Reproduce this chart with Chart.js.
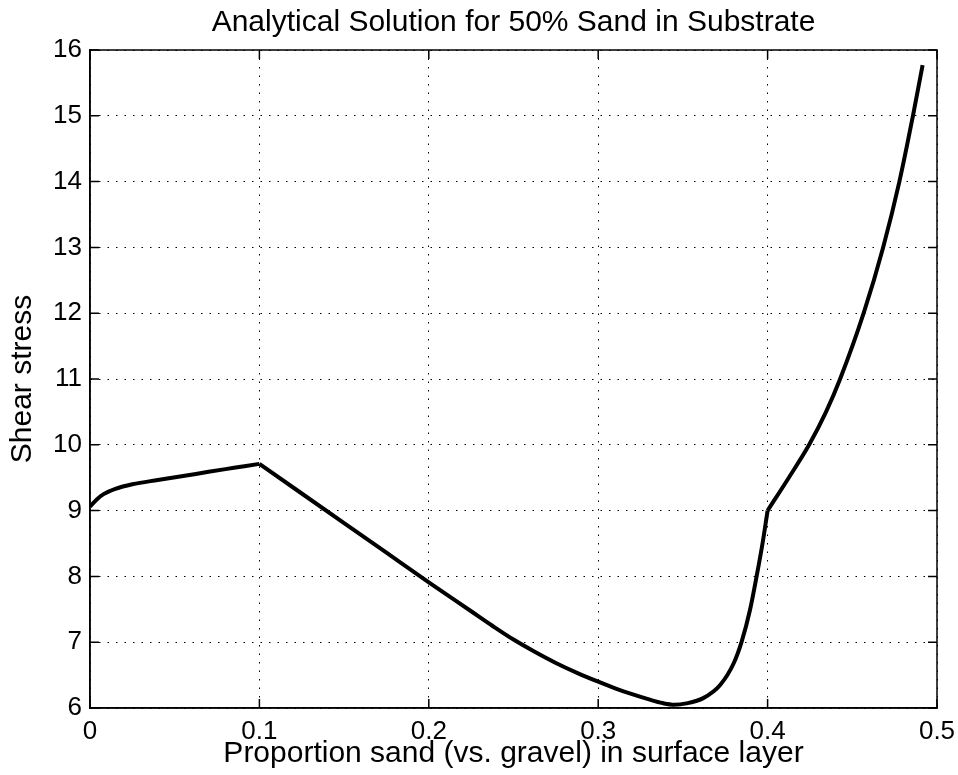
<!DOCTYPE html>
<html>
<head>
<meta charset="utf-8">
<script src="https://cdn.jsdelivr.net/npm/chart.js@4.4.0/dist/chart.umd.min.js"></script>
<style>
  html, body { margin: 0; padding: 0; background: #fff; }
  #wrap { width: 958px; height: 775px; }
</style>
</head>
<body>
<div id="wrap"><canvas id="chart" width="958" height="775"></canvas></div>
<script>
// Proportion of sand in the surface layer
const sandFraction = [
  0.000, 0.004, 0.008, 0.015, 0.025, 0.040, 0.055, 0.070, 0.085, 0.100,
  0.125, 0.150, 0.175, 0.200, 0.225, 0.2375, 0.250, 0.2625, 0.275, 0.2875,
  0.300, 0.310, 0.320, 0.330, 0.338, 0.345,
  0.352, 0.362, 0.372, 0.380, 0.3846, 0.3896, 0.3935, 0.397, 0.400,
  0.4125, 0.4245, 0.4345, 0.4428, 0.4567, 0.4682, 0.4778, 0.4858, 0.4915
];
// Shear stress for 50% sand in the substrate
const shearStress = [
  9.06, 9.17, 9.25, 9.33, 9.40, 9.465, 9.525, 9.59, 9.65, 9.71,
  9.26, 8.81, 8.36, 7.91, 7.47, 7.25, 7.04, 6.855, 6.685, 6.535,
  6.40, 6.30, 6.21, 6.13, 6.075, 6.05,
  6.07, 6.15, 6.35, 6.68, 7.00, 7.49, 8.00, 8.50, 9.00,
  9.50, 10.00, 10.50, 11.00, 12.00, 13.00, 14.00, 15.00, 15.77
];
// Regime changes where the curve has a corner
const regimeBreaks = [0.1, 0.4];

const xTickValues = [0, 0.1, 0.2, 0.3, 0.4, 0.5];
const xTickLabels = ['0', '0.1', '0.2', '0.3', '0.4', '0.5'];
const yTickValues = [6, 7, 8, 9, 10, 11, 12, 13, 14, 15, 16];
const yTickLabels = ['6', '7', '8', '9', '10', '11', '12', '13', '14', '15', '16'];

const FONT = "'Liberation Sans', Arial, Helvetica, sans-serif";
const fontSpec = (size) => ({ family: FONT, size: size, lineHeight: 1.2, weight: 'normal' });

// Split the curve at each regime break so the corners stay sharp
function pieces(xs, ys, breaks) {
  const out = [[]];
  xs.forEach((x, i) => {
    const p = { x: x, y: ys[i] };
    out[out.length - 1].push(p);
    if (breaks.includes(x) && i > 0 && i < xs.length - 1) out.push([p]);
  });
  return out;
}

const curveDatasets = pieces(sandFraction, shearStress, regimeBreaks).map(pts => ({
  data: pts,
  showLine: true,
  borderColor: '#000',
  borderWidth: 4,
  pointRadius: 0,
  cubicInterpolationMode: 'monotone',
  fill: false
}));

// Closed box around the plot with inward tick marks on all four sides
const boxFrame = {
  id: 'boxFrame',
  afterDatasetsDraw(chart) {
    const { ctx, chartArea: a, scales } = chart;
    const len = 9;
    ctx.save();
    ctx.strokeStyle = '#000';
    ctx.lineWidth = 1.5;
    ctx.strokeRect(a.left, a.top, a.right - a.left, a.bottom - a.top);
    ctx.beginPath();
    scales.x.ticks.forEach(t => {
      const px = scales.x.getPixelForValue(t.value);
      ctx.moveTo(px, a.bottom); ctx.lineTo(px, a.bottom - len);
      ctx.moveTo(px, a.top); ctx.lineTo(px, a.top + len);
    });
    scales.y.ticks.forEach(t => {
      const py = scales.y.getPixelForValue(t.value);
      ctx.moveTo(a.left, py); ctx.lineTo(a.left + len, py);
      ctx.moveTo(a.right, py); ctx.lineTo(a.right - len, py);
    });
    ctx.stroke();
    ctx.restore();
  }
};

const fixHorizontal = (h) => (s) => { s.height = h; s.paddingLeft = 0; s.paddingRight = 0; };

new Chart(document.getElementById('chart'), {
  type: 'scatter',
  data: { datasets: curveDatasets },
  options: {
    responsive: false,
    animation: false,
    devicePixelRatio: 1,
    layout: { padding: { left: 0, right: 21, top: 0, bottom: 0 } },
    plugins: {
      legend: { display: false },
      tooltip: { enabled: false },
      title: { display: false }
    },
    scales: {
      x: {
        type: 'linear',
        position: 'bottom',
        min: 0,
        max: 0.5,
        afterBuildTicks: (s) => { s.ticks = xTickValues.map(v => ({ value: v })); },
        afterFit: fixHorizontal(67),
        ticks: {
          color: '#000',
          font: fontSpec(26),
          padding: 8,
          maxRotation: 0,
          autoSkip: false,
          callback: (v, i) => xTickLabels[i]
        },
        grid: { color: '#000', lineWidth: 1, drawTicks: false },
        border: { display: true, color: '#000', width: 1.5, dash: [1.5, 7] },
        title: {
          display: true,
          text: 'Proportion sand (vs. gravel) in surface layer',
          color: '#000',
          font: fontSpec(30),
          padding: { top: 0, bottom: 3 }
        }
      },
      top: {
        type: 'linear',
        position: 'top',
        min: 0,
        max: 0.5,
        afterFit: fixHorizontal(50),
        ticks: { display: false },
        grid: { display: false, drawTicks: false },
        border: { display: false },
        title: {
          display: true,
          text: 'Analytical Solution for 50% Sand in Substrate',
          color: '#000',
          font: fontSpec(30),
          padding: { top: 5, bottom: 0 }
        }
      },
      y: {
        type: 'linear',
        min: 6,
        max: 16,
        afterBuildTicks: (s) => { s.ticks = yTickValues.map(v => ({ value: v })); },
        afterFit: (s) => { s.width = 90; },
        ticks: {
          color: '#000',
          font: fontSpec(26),
          padding: 8,
          autoSkip: false,
          callback: (v, i) => yTickLabels[i]
        },
        grid: { color: '#000', lineWidth: 1, drawTicks: false },
        border: { display: true, color: '#000', width: 1.5, dash: [1.5, 7] },
        title: {
          display: true,
          text: 'Shear stress',
          color: '#000',
          font: fontSpec(30),
          padding: { top: 5, bottom: 0 }
        }
      }
    }
  },
  plugins: [boxFrame]
});
</script>
</body>
</html>
